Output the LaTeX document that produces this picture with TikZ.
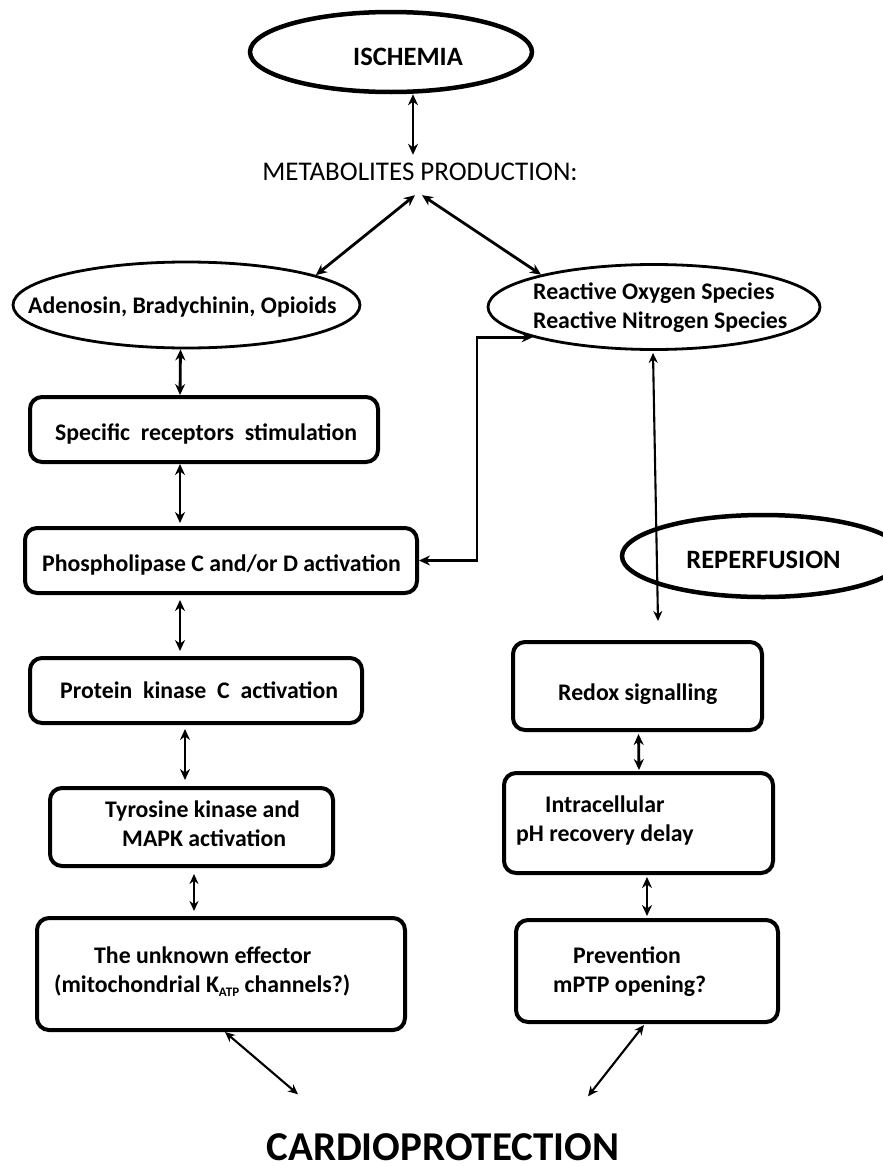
\documentclass[tikz,border=0pt]{standalone}
\usepackage{fontspec}
\setmainfont{Carlito}
\usetikzlibrary{arrows.meta,shapes.geometric,calc}
\begin{document}
\begin{tikzpicture}[x=1pt,y=-1pt,
  box/.style={draw, rectangle, line width=4pt, rounded corners=12pt, inner sep=0pt},
  ellthick/.style={draw, ellipse, line width=4.5pt, inner sep=0pt},
  ellthin/.style={draw, ellipse, line width=2.8pt, inner sep=0pt},
  txt/.style={font=\fontsize{23.8}{28}\selectfont\bfseries, inner sep=0pt, anchor=base west},
  bigtxt/.style={font=\fontsize{26.5}{30}\selectfont\bfseries, inner sep=0pt, anchor=base},
  dbl/.style={{Stealth[length=11pt,width=10pt]}-{Stealth[length=11pt,width=10pt]}, line width=2.8pt},
  dblthin/.style={{Stealth[length=10pt,width=9pt]}-{Stealth[length=10pt,width=9pt]}, line width=2.1pt}
]
\useasboundingbox (0,0) rectangle (883,1167);
\clip (0,0) rectangle (883,1167);

% ellipses
\node[ellthick, minimum width=282pt, minimum height=80pt] (isch) at (391,52) {};
\node[bigtxt] (ischtxt) at (408,65) {ISCHEMIA};
\node[font=\fontsize{27}{30}\selectfont, inner sep=0pt, anchor=base, text height=17pt, text depth=0pt] (metab) at (420,180) {METABOLITES PRODUCTION:};

\node[ellthin, minimum width=347pt, minimum height=86pt] (aden) at (186.5,305) {};
\node[txt] (adentxt) at (28,313) {Adenosin, Bradychinin, Opioids};

\node[ellthin, minimum width=332pt, minimum height=85pt] (ros) at (654,307) {};
\node[txt] (ros1) at (533,299) {Reactive Oxygen Species};
\node[txt] (ros2) at (533,328) {Reactive Nitrogen Species};

\node[ellthick, minimum width=282pt, minimum height=82pt] (rep) at (763,556) {};
\node[bigtxt] (reptxt) at (763.5,568) {REPERFUSION};

% left column boxes
\node[box, minimum width=348pt, minimum height=65pt] (spec) at (204,429.5) {};
\node[txt] (spectxt) at (55,440) {Specific\ \ receptors\ \ stimulation};

\node[box, minimum width=392pt, minimum height=65pt] (plc) at (221,560.5) {};
\node[txt] (plctxt) at (42,571) {Phospholipase C and/or D activation};

\node[box, minimum width=332pt, minimum height=65pt] (pkc) at (196,690.5) {};
\node[txt] (pkctxt) at (60,698) {Protein\ \ kinase\ \ C\ \ activation};

\node[box, minimum width=283pt, minimum height=78pt] (tyr) at (191.5,827) {};
\node[txt] (tyr1) at (105,817) {Tyrosine kinase and};
\node[txt] (tyr2) at (122,846) {MAPK activation};

\node[box, minimum width=368pt, minimum height=112pt] (unk) at (221,974) {};
\node[txt] (unk1) at (94,963) {The unknown effector};
\node[txt] (unk2) at (54,992) {(mitochondrial K\raisebox{-0.35ex}{\fontsize{13}{13}\selectfont ATP} channels?)};

% right column boxes
\node[box, minimum width=249pt, minimum height=88pt] (redox) at (637.5,686) {};
\node[txt] (redoxtxt) at (558,700) {Redox signalling};

\node[box, minimum width=269pt, minimum height=100pt] (intra) at (638.5,823) {};
\node[txt] (intra1) at (545,812) {Intracellular};
\node[txt] (intra2) at (516,841) {pH recovery delay};

\node[box, minimum width=262pt, minimum height=102pt] (prev) at (647,971) {};
\node[txt] (prev1) at (573,963) {Prevention};
\node[txt] (prev2) at (553,992) {mPTP opening?};

\node[font=\fontsize{41}{44}\selectfont\bfseries, inner sep=0pt, anchor=base, text height=26pt, text depth=0pt] (cardio) at (443,1160.5) {CARDIOPROTECTION};

% connectors
\draw[dbl] ($(isch.south)+(22,0)$) -- ($(metab.north)+(-7,-8)$);
\draw[dbl] ($(metab.south)+(-5,15)$) -- (aden.13.6);
\draw[dbl] ($(metab.south)+(2,15)$) -- (ros.164.7);
\draw[dbl] ($(aden.south)+(-6,0)$) -- ($(spec.north)+(-24,0)$);
\draw[dbl] ($(spec.south)+(-24,0)$) -- ($(plc.north)+(-41,-3)$);
\draw[dbl] ($(plc.south)+(-41,5)$) -- ($(pkc.north)+(-16,-5)$);
\draw[dbl] ($(pkc.south)+(-11,4)$) -- ($(tyr.north)+(-6.5,-6)$);
\draw[dblthin] ($(tyr.south)+(2.5,6)$) -- ($(unk.north)+(-27,-5)$);
\draw[dbl] (plc.east) -- ++(58,0) |- (ros.194);
\draw[dblthin] ($(ros.south)+(-1,2)$) -- ($(redox.north)+(20.5,-19)$);
\draw[dbl] ($(redox.south)+(1,2)$) -- ($(intra.north)+(0.5,-1)$);
\draw[dbl] ($(intra.south)+(8.5,2)$) -- ($(prev.north)+(0,-2)$);
\draw[dblthin] ($(unk.south)+(4,0)$) -- ($(cardio.north)+(-145,-40)$);
\draw[dblthin] ($(prev.south)+(-3,1)$) -- ($(cardio.north)+(145,-38)$);
\end{tikzpicture}
\end{document}
